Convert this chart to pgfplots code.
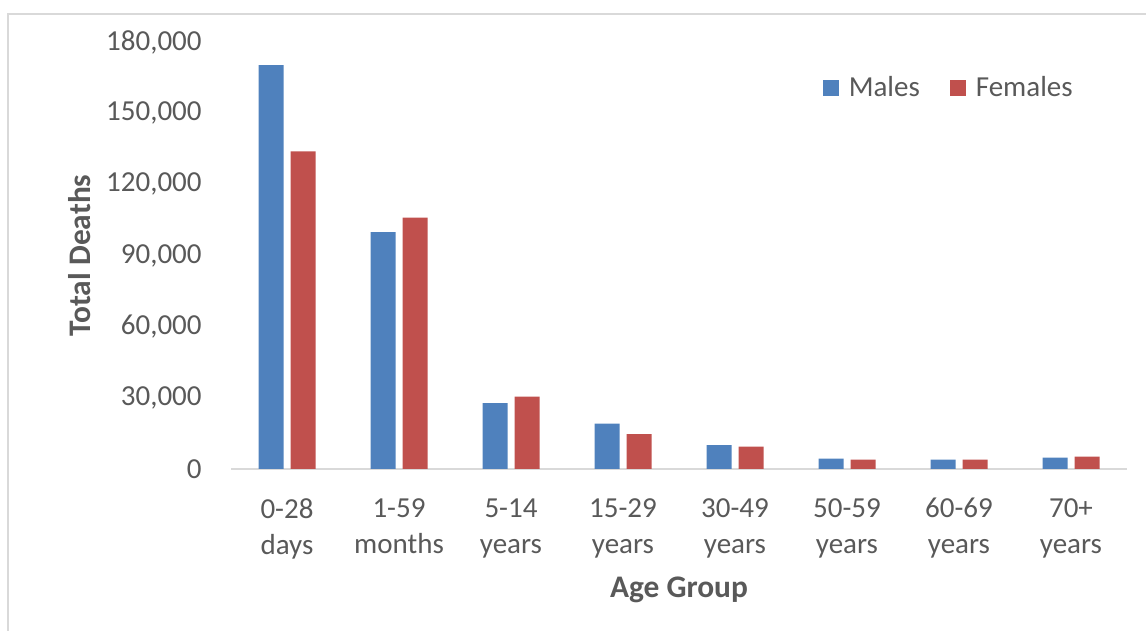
\documentclass[border=0pt]{standalone}
\usepackage{pgfplots}
\pgfplotsset{compat=1.18}
\usepackage{fontspec}
\setmainfont{Carlito}
\definecolor{males}{HTML}{4F81BD}
\definecolor{females}{HTML}{C0504D}
\definecolor{txt}{HTML}{595959}
\definecolor{axgray}{HTML}{D9D9D9}
\begin{document}
\begin{tikzpicture}
\path[use as bounding box] (0pt,0pt) rectangle (573pt,315.5pt);
\draw[axgray, line width=0.8pt] (4pt,-2pt) -- (4pt,308.5pt) -- (575pt,308.5pt);
\begin{axis}[
  at={(115.5pt,81pt)}, anchor=south west,
  scale only axis, width=448pt, height=213.5pt,
  ybar=3.5pt, bar width=12.5pt,
  xmin=-0.5, xmax=7.5, ymin=0, ymax=180000,
  axis x line*=bottom, axis y line*=left,
  x axis line style={-, axgray, line width=1pt},
  y axis line style={draw=none},
  xtick={0,...,7},
  xticklabels={{0-28\\days},{1-59\\months},{5-14\\years},{15-29\\years},{30-49\\years},{50-59\\years},{60-69\\years},{70+\\years}},
  xticklabel style={align=center, font=\fontsize{14.5}{18}\selectfont, text=txt, inner sep=0pt, anchor=north, yshift=-14.5pt},
  ytick={0,30000,...,180000},
  scaled y ticks=false,
  yticklabel style={font=\fontsize{14.5}{18}\selectfont, text=txt, inner sep=0pt, anchor=east, xshift=-14.5pt,
    /pgf/number format/.cd, fixed, 1000 sep={,}, assume math mode=true},
  major tick length=0pt,
  tick style={draw=none},
  xlabel={\textbf{Age Group}},
  ylabel={\textbf{Total Deaths}},
  xlabel style={at={(axis description cs:0.5,-0.283)}, anchor=center, font=\fontsize{15.7}{18}\selectfont, text=txt},
  ylabel style={at={(axis description cs:-0.1685,0.5)}, anchor=center, font=\fontsize{15.7}{18}\selectfont, text=txt},
  legend style={at={(0.66,0.892)}, anchor=west, draw=none, fill=none, inner sep=0pt,
    font=\fontsize{14.5}{18}\selectfont, text=txt,
    /tikz/every odd column/.append style={column sep=3pt},
    /tikz/every even column/.append style={column sep=13pt}},
  legend columns=2,
  legend image code/.code={\fill[#1] (0pt,-4pt) rectangle (8pt,4pt);},
]
\addplot[fill=males, draw=none] coordinates {(0,170300) (1,99900) (2,27800) (3,19100) (4,10100) (5,4350) (6,3900) (7,4750)};
\addplot[fill=females, draw=none] coordinates {(0,133900) (1,106000) (2,30500) (3,14750) (4,9400) (5,3900) (6,3900) (7,5200)};
\legend{Males, Females}
\end{axis}
\end{tikzpicture}
\end{document}
